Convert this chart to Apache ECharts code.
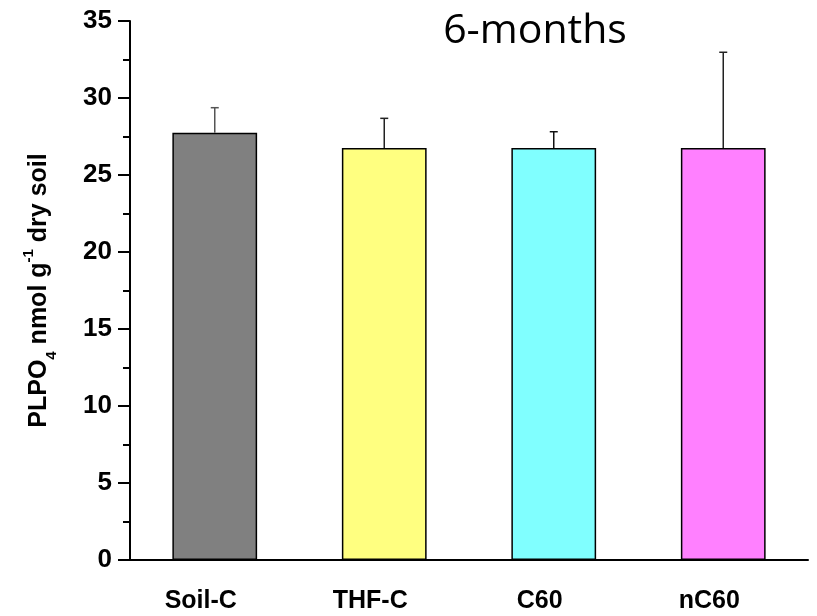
<!DOCTYPE html>
<html><head><meta charset="utf-8">
<script src="https://cdn.jsdelivr.net/npm/echarts@6/dist/echarts.min.js"></script>
<style>html,body{margin:0;padding:0;background:#fff}#c{width:817px;height:616px}</style>
</head><body><div id="c"></div>
<script>
const categories = ['Soil-C', 'THF-C', 'C60', 'nC60'];
const means = [27.75, 26.75, 26.75, 26.75];
const upper = [29.37, 28.68, 27.81, 32.97];
const colors = ['#808080', '#FFFF80', '#80FFFF', '#FF80FF'];
const errColors = ['#555555', '#222222', '#111111', '#222222'];

const chart = echarts.init(document.getElementById('c'), null, {renderer: 'canvas'});
const font = '"Liberation Sans", Arial, sans-serif';
chart.setOption({
  animation: false,
  backgroundColor: '#fff',
  title: {
    text: '6-months', left: 530, top: 6, textAlign: 'center',
    textStyle: {fontFamily: '"Open Sans", "Noto Sans", sans-serif', fontSize: 41, fontWeight: 'normal', color: '#000'}
  },
  grid: {left: 130, right: 9, top: 21, bottom: 56},
  xAxis: [{
    type: 'category', data: categories,
    axisLine: {lineStyle: {color: '#000', width: 2}},
    axisTick: {alignWithLabel: true, length: 12, lineStyle: {color: '#000', width: 2}},
    axisLabel: {fontFamily: font, fontWeight: 'bold', fontSize: 25, color: '#000', margin: 29, padding: [0, 28, 0, 0]}
  }, {
    type: 'category', data: categories, position: 'bottom',
    axisLine: {show: false},
    axisTick: {length: 6, lineStyle: {color: '#000', width: 2}},
    axisLabel: {show: false}
  }],
  yAxis: {
    type: 'value', min: 0, max: 35, interval: 5,
    axisLine: {show: true, lineStyle: {color: '#000', width: 2}},
    axisTick: {show: true, length: 12, lineStyle: {color: '#000', width: 2}},
    minorTick: {show: true, splitNumber: 2, length: 7, lineStyle: {color: '#000', width: 2}},
    splitLine: {show: false},
    axisLabel: {fontFamily: font, fontWeight: 'bold', fontSize: 26, color: '#000', margin: 18},
    name: '{b|PLPO}{sub|4}{b| nmol g}{sup|-1}{b| dry soil}',
    nameLocation: 'middle', nameRotate: 90, nameGap: 76,
    nameTextStyle: {
      rich: {
        b: {fontFamily: font, fontWeight: 'bold', fontSize: 25, color: '#000', lineHeight: 30},
        sub: {fontFamily: font, fontWeight: 'bold', fontSize: 15, color: '#000', verticalAlign: 'bottom', lineHeight: 30, padding: [0, 0, -5, 0]},
        sup: {fontFamily: font, fontWeight: 'bold', fontSize: 15, color: '#000', verticalAlign: 'top', lineHeight: 30, padding: [-3, 0, 0, 0]}
      }
    }
  },
  series: [{
    type: 'bar', barWidth: '50%',
    data: means.map((v, i) => ({value: v, itemStyle: {color: colors[i]}})),
    itemStyle: {borderColor: '#000', borderWidth: 1.5}
  }, {
    type: 'custom',
    data: categories.map((c, i) => [i, means[i], upper[i]]),
    renderItem: function (params, api) {
      const x = api.coord([api.value(0), 0])[0];
      const y0 = api.coord([api.value(0), api.value(1)])[1];
      const y1 = api.coord([api.value(0), api.value(2)])[1];
      const idx = params.dataIndex;
      const style = {stroke: errColors[idx], lineWidth: 1.5};
      return {type: 'group', children: [
        {type: 'line', shape: {x1: x, y1: y0, x2: x, y2: y1}, style: style},
        {type: 'line', shape: {x1: x - 4, y1: y1, x2: x + 4, y2: y1}, style: style}
      ]};
    },
    z: 5
  }]
});
</script></body></html>
